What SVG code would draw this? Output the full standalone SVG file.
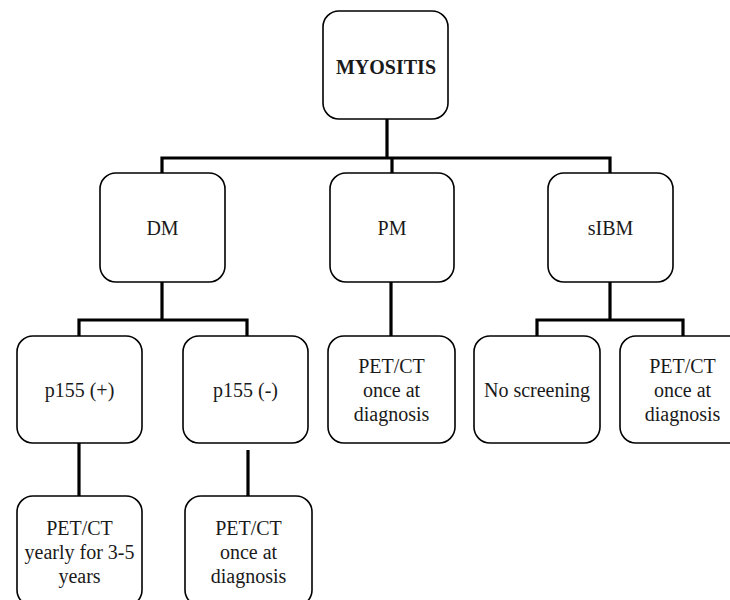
<svg xmlns="http://www.w3.org/2000/svg" width="730" height="600" viewBox="0 0 730 600">
<style>
.box{fill:#fff;stroke:#000;stroke-width:1.6}
.t{font-family:'Liberation Serif','DejaVu Serif',serif;font-size:20px;fill:#1a1a1a;text-anchor:middle}
.b{font-weight:bold}
.c{fill:none;stroke:#000;stroke-width:3.2;stroke-linejoin:miter;stroke-linecap:butt}
</style>
<rect width="730" height="600" fill="#fff"/>
<g id="connectors">
<path class="c" d="M387 119 V158 M162 174 V158 H610 V174 M392 158 V174"/>
<path class="c" d="M162 282 V320 M79 337 V320 H247 V337"/>
<path class="c" d="M391 282 V337"/>
<path class="c" d="M610 282 V320 M537 337 V320 H683 V337"/>
<path class="c" d="M79 443 V497"/>
<path class="c" d="M248 450 V497"/>
</g>
<g id="myositis"><rect class="box" x="323" y="11" width="125" height="108" rx="16"/><text class="t b" x="386" y="74">MYOSITIS</text></g>
<g id="dm"><rect class="box" x="100" y="173" width="125" height="109" rx="16"/><text class="t" x="162.5" y="235">DM</text></g>
<g id="pm"><rect class="box" x="330" y="173" width="124" height="109" rx="16"/><text class="t" x="392" y="235">PM</text></g>
<g id="sibm"><rect class="box" x="548" y="173" width="125" height="109" rx="16"/><text class="t" x="610.5" y="235">sIBM</text></g>
<g id="p155pos"><rect class="box" x="17" y="336" width="125" height="107" rx="16"/><text class="t" x="79.5" y="397">p155 (+)</text></g>
<g id="p155neg"><rect class="box" x="183" y="336" width="125" height="107" rx="16"/><text class="t" x="245.5" y="397">p155 (-)</text></g>
<g id="pm-pet"><rect class="box" x="328" y="336" width="127" height="107" rx="16"/><text class="t" x="391.5" y="373">PET/CT<tspan x="391.5" dy="24">once at</tspan><tspan x="391.5" dy="24">diagnosis</tspan></text></g>
<g id="noscreen"><rect class="box" x="474" y="336" width="126" height="107" rx="16"/><text class="t" x="537" y="397">No screening</text></g>
<g id="sibm-pet"><rect class="box" x="620" y="336" width="125" height="107" rx="16"/><text class="t" x="682.5" y="373">PET/CT<tspan x="682.5" dy="24">once at</tspan><tspan x="682.5" dy="24">diagnosis</tspan></text></g>
<g id="pos-pet"><rect class="box" x="17" y="496" width="125" height="110" rx="16"/><text class="t" x="79.5" y="535">PET/CT<tspan x="79.5" dy="24">yearly for 3-5</tspan><tspan x="79.5" dy="24">years</tspan></text></g>
<g id="neg-pet"><rect class="box" x="185" y="496" width="127" height="110" rx="16"/><text class="t" x="248.5" y="535">PET/CT<tspan x="248.5" dy="24">once at</tspan><tspan x="248.5" dy="24">diagnosis</tspan></text></g>
</svg>
